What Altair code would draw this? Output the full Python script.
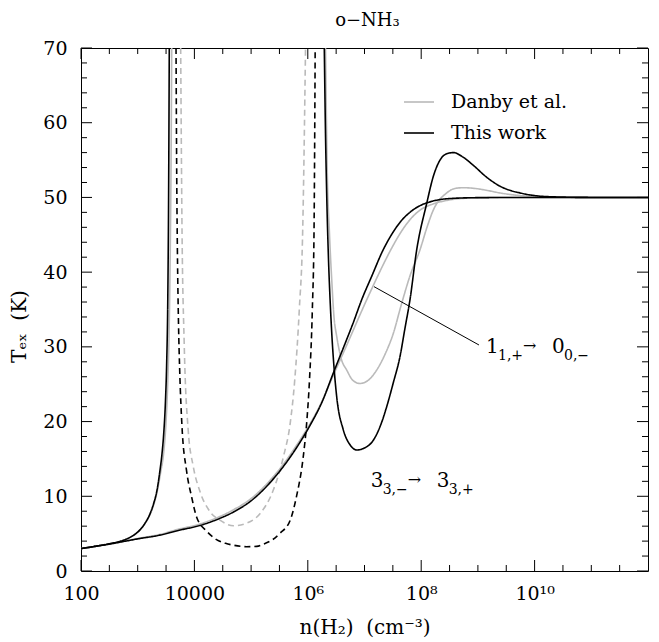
import altair as alt
import pandas as pd

FONT = "DejaVu Serif"
W, H = 567, 523
MAJ, MIN = 11, 6

# ---------------- data (log10 n(H2), T_ex in K) ----------------
tw_11_logn = [2.0, 2.25, 2.5, 2.75, 3.0, 3.39, 3.7, 4.1, 4.45, 4.69, 5.0, 5.27, 5.57, 5.86, 6.04, 6.25,
              6.45, 6.65, 6.80, 6.95, 7.13, 7.33, 7.5, 7.63, 7.8, 7.98, 8.2, 8.5, 9.0, 10.0, 12.0]
tw_11_T = [3.0, 3.3, 3.6, 3.95, 4.3, 4.8, 5.4, 6.1, 7.05, 7.9, 9.4, 11.3, 14.0, 17.2, 19.5, 22.6,
           26.5, 30.3, 33.2, 36.3, 39.5, 43.0, 45.3, 46.7, 48.0, 48.9, 49.5, 49.85, 49.97, 50.0, 50.0]

da_11_logn = [2.0, 2.25, 2.5, 2.75, 3.0, 3.39, 3.7, 4.1, 4.45, 4.69, 5.0, 5.27, 5.57, 5.86, 6.04, 6.25,
              6.45, 6.65, 6.80, 6.95, 7.13, 7.33, 7.5, 7.63, 7.8, 7.98, 8.2, 8.45, 8.7, 9.2, 10.0, 12.0]
da_11_T = [3.0, 3.3, 3.6, 3.97, 4.35, 4.9, 5.55, 6.3, 7.3, 8.2, 9.7, 11.6, 14.3, 17.5, 19.7, 22.7,
           26.2, 29.6, 32.2, 34.8, 37.8, 41.0, 43.5, 45.2, 47.0, 48.3, 49.1, 49.6, 49.85, 49.97, 50.0, 50.0]

tw_33a_logn = [2.0, 2.25, 2.5, 2.7, 2.81, 2.95, 3.04, 3.13, 3.22, 3.28, 3.34, 3.39, 3.43, 3.46, 3.49,
               3.51, 3.53, 3.545, 3.557]
tw_33a_T = [3.0, 3.3, 3.65, 4.0, 4.3, 4.9, 5.5, 6.4, 7.7, 9.0, 10.8, 13.3, 15.8, 18.5, 22.8,
            27.5, 36.0, 50.0, 70.0]

da_33a_logn = [2.0, 2.25, 2.5, 2.7, 2.81, 2.95, 3.04, 3.13, 3.22, 3.28, 3.34, 3.40, 3.46, 3.50, 3.53,
               3.555, 3.575, 3.59, 3.60]
da_33a_T = [3.0, 3.3, 3.65, 4.0, 4.3, 4.9, 5.5, 6.4, 7.6, 8.8, 10.5, 13.0, 16.0, 20.0, 25.3,
            32.5, 43.5, 56.5, 70.0]

tw_33n_logn = [3.676, 3.69, 3.70, 3.72, 3.74, 3.78, 3.86, 3.95, 4.04, 4.22, 4.39, 4.55, 4.69,
               4.92, 5.1, 5.22, 5.38, 5.51, 5.69, 5.80, 5.92, 5.98, 6.03, 6.08, 6.11, 6.13]
tw_33n_T = [70, 51, 43, 33, 27, 19.5, 13.5, 9.95, 7.2, 5.3, 4.2, 3.7, 3.45,
            3.25, 3.3, 3.6, 4.2, 5.05, 6.8, 9.95, 15.3, 19.8, 25.6, 35, 45.6, 70]

da_33n_logn = [3.758, 3.78, 3.82, 3.89, 3.98, 4.10, 4.28, 4.45, 4.69, 4.92, 5.16, 5.39, 5.57,
               5.69, 5.77, 5.85, 5.91, 5.96]
da_33n_T = [70, 47, 30.5, 18.9, 14.0, 10.6, 7.9, 6.8, 6.06, 6.4, 7.7, 10.8, 15.3,
            19.8, 25.6, 35, 45.6, 70]

tw_33b_logn = [6.291, 6.312, 6.333, 6.365, 6.392, 6.422, 6.462, 6.510, 6.626, 6.744, 6.862, 7.009,
               7.155, 7.273, 7.392, 7.508, 7.626, 7.714, 7.802, 7.921, 8.097, 8.213, 8.332, 8.437, 8.566,
               8.737, 8.919, 9.155, 9.390, 9.743, 10.0, 10.325, 11.0, 12.0]
tw_33b_T = [70, 58.6, 50.5, 41.7, 36.5, 31.9, 27.3, 23.3, 18.9, 16.9, 16.2, 16.5,
            17.5, 19.3, 22.0, 25.2, 28.7, 32.5, 36.3, 43.0, 49.2, 52.8, 55.0, 55.8, 56.0,
            55.4, 54.3, 52.7, 51.5, 50.6, 50.25, 50.08, 50.0, 50.0]

da_33b_logn = [6.312, 6.339, 6.383, 6.422, 6.462, 6.510, 6.586, 6.686, 6.797, 6.921, 7.062, 7.215,
               7.362, 7.508, 7.644, 7.802, 7.979, 8.102, 8.213, 8.450, 8.596, 8.743, 8.95, 9.155, 9.390,
               9.743, 10.325, 11.0, 12.0]
da_33b_T = [70, 55, 45, 39, 34, 31.4, 28.5, 26.9, 25.5, 25.1, 25.5, 26.9,
            29, 31.8, 35.5, 39.5, 43, 46, 48.3, 50.6, 51.2, 51.3, 51.2, 50.95, 50.6,
            50.25, 50.05, 50.0, 50.0]

sources = ["Danby et al.", "This work"]
source_colors = ["#bababa", "#000000"]

x_label_values = [100, 1e4, 1e6, 1e8, 1e10]
x_label_texts = ["100", "10000", "10\u2076", "10\u2078", "10\u00b9\u2070"]
x_major = [100, 1e4, 1e6, 1e8, 1e10]
x_minor = [316.23, 1e3, 3162.3, 31623, 1e5, 316228, 3.1623e6, 1e7, 3.1623e7, 3.1623e8, 1e9,
           3.1623e9, 3.1623e10, 1e11, 3.1623e11]
y_major = [0, 10, 20, 30, 40, 50, 60, 70]
y_minor = [2, 4, 6, 8, 12, 14, 16, 18, 22, 24, 26, 28, 32, 34, 36, 38, 42, 44, 46, 48,
           52, 54, 56, 58, 62, 64, 66, 68]

title_text = ["o\u2212NH\u2083"]

ann_n = [1.39e9, 1.285e7]
ann_T = [29.2, 11.24]
ann_big1 = ["1", "3"]
ann_sub1 = ["1,+", "3,\u2212"]
ann_arrow = ["\u2192", "\u2192"]
ann_big2 = ["0", "3"]
ann_sub2 = ["0,\u2212", "3,+"]

leader_n = [1.47e7, 1.045e9]
leader_T = [38.06, 30.25]

# ---------------- build tables ----------------
curves = [
    ("da11", "Danby et al.", "solid", da_11_logn, da_11_T),
    ("da33a", "Danby et al.", "solid", da_33a_logn, da_33a_T),
    ("da33n", "Danby et al.", "dashed", da_33n_logn, da_33n_T),
    ("da33b", "Danby et al.", "solid", da_33b_logn, da_33b_T),
    ("tw11", "This work", "solid", tw_11_logn, tw_11_T),
    ("tw33a", "This work", "solid", tw_33a_logn, tw_33a_T),
    ("tw33n", "This work", "dashed", tw_33n_logn, tw_33n_T),
    ("tw33b", "This work", "solid", tw_33b_logn, tw_33b_T),
]
rows = []
for cid, src, sty, lx, ty in curves:
    for i, (a, b) in enumerate(zip(lx, ty)):
        rows.append({"curve": cid, "source": src, "style": sty, "i": i, "n": 10 ** a, "T": b})
df = pd.DataFrame(rows)

ann_df = pd.DataFrame({"n": ann_n, "T": ann_T, "big1": ann_big1, "sub1": ann_sub1,
                       "arrow": ann_arrow, "big2": ann_big2, "sub2": ann_sub2})
lead_df = pd.DataFrame({"n1": [leader_n[0]], "n2": [leader_n[1]],
                        "T1": [leader_T[0]], "T2": [leader_T[1]]})

xs = alt.Scale(type="log", domain=[100, 1e12])
ys = alt.Scale(domain=[0, 70])

label_expr = ""
for v, t in zip(x_label_values, x_label_texts):
    label_expr += f"abs(datum.value/{v!r} - 1) < 1e-6 ? '{t}' : "
label_expr += "''"

x_axis = alt.Axis(orient="bottom", values=x_label_values, labelExpr=label_expr, ticks=False, tickSize=0,
                  domain=False, grid=False, labelFont=FONT, labelFontSize=19, labelColor="black",
                  labelPadding=13, labelFlush=False, labelOverlap=False,
                  title="n(H\u2082)\u00a0\u00a0(cm\u207b\u00b3)", titleFont=FONT, titleFontSize=20,
                  titleFontWeight="normal", titleColor="black", titleY=46, titleBaseline="top")
y_axis = alt.Axis(orient="left", values=y_major, ticks=False, tickSize=0, domain=False, grid=False,
                  labelFont=FONT, labelFontSize=19, labelColor="black", labelPadding=14,
                  labelFlush=False, labelOverlap=False,
                  title="T\u2091\u2093\u00a0\u00a0(K)", titleFont=FONT, titleFontSize=20,
                  titleFontWeight="normal", titleColor="black", titleX=-62, titleY=278,
                  titleBaseline="middle")

# ---------------- layers ----------------
lines = alt.Chart(df).mark_line(clip=True, strokeWidth=1.6, interpolate="monotone").encode(
    x=alt.X("n:Q", scale=xs, axis=x_axis),
    y=alt.Y("T:Q", scale=ys, axis=y_axis),
    color=alt.Color("source:N", scale=alt.Scale(domain=sources, range=source_colors),
                    legend=alt.Legend(title=None, orient="none", legendX=322, legendY=38,
                                      symbolType="stroke", symbolSize=900, symbolStrokeWidth=1.6,
                                      labelFont=FONT, labelFontSize=19, labelColor="black",
                                      labelOffset=16, rowPadding=5, padding=0)),
    strokeDash=alt.StrokeDash("style:N", scale=alt.Scale(domain=["solid", "dashed"],
                                                         range=[[1, 0], [6, 4]]), legend=None),
    detail="curve:N",
    order="i:Q",
)


def xticks(values, y0, y1):
    return alt.Chart(pd.DataFrame({"v": values})).mark_rule(color="black", strokeWidth=1).encode(
        x=alt.X("v:Q", scale=xs, axis=None), y=alt.value(y0), y2=alt.value(y1))


def yticks(values, x0, x1):
    return alt.Chart(pd.DataFrame({"v": values})).mark_rule(color="black", strokeWidth=1).encode(
        y=alt.Y("v:Q", scale=ys, axis=None), x=alt.value(x0), x2=alt.value(x1))


tick_layers = [
    xticks(x_major, H, H - MAJ), xticks(x_minor, H, H - MIN),
    xticks(x_major, 0, MAJ), xticks(x_minor, 0, MIN),
    yticks(y_major, 0, MAJ), yticks(y_minor, 0, MIN),
    yticks(y_major, W, W - MAJ), yticks(y_minor, W, W - MIN),
]

leader = alt.Chart(lead_df).mark_rule(color="black", strokeWidth=1).encode(
    x=alt.X("n1:Q", scale=xs, axis=None), x2="n2:Q",
    y=alt.Y("T1:Q", scale=ys, axis=None), y2="T2:Q",
)

text_layers = []
for field, size, dx, dy in [("big1", 20, 0, 0), ("sub1", 14, 12, 7), ("arrow", 16, 37, -2),
                            ("big2", 20, 66, 0), ("sub2", 14, 78, 7)]:
    text_layers.append(
        alt.Chart(ann_df).mark_text(align="left", baseline="alphabetic", font=FONT, fontSize=size,
                                    dx=dx, dy=dy, color="black").encode(
            x=alt.X("n:Q", scale=xs, axis=None),
            y=alt.Y("T:Q", scale=ys, axis=None),
            text=f"{field}:N",
        )
    )

title_layer = alt.Chart(pd.DataFrame({"t": title_text})).mark_text(
    align="center", baseline="alphabetic", font=FONT, fontSize=18, color="black"
).encode(x=alt.value(W / 2 + 3), y=alt.value(-22), text="t:N")

chart = alt.layer(lines, *tick_layers, leader, *text_layers, title_layer).resolve_axis(
    x="independent", y="independent"
).properties(
    width=W, height=H,
    autosize=alt.AutoSizeParams(type="none"),
    padding={"left": 73, "top": 40, "right": 3, "bottom": 70},
).configure_view(stroke="black", strokeWidth=1)

chart.save("out.html", embed_options={"renderer": "svg", "actions": False})
